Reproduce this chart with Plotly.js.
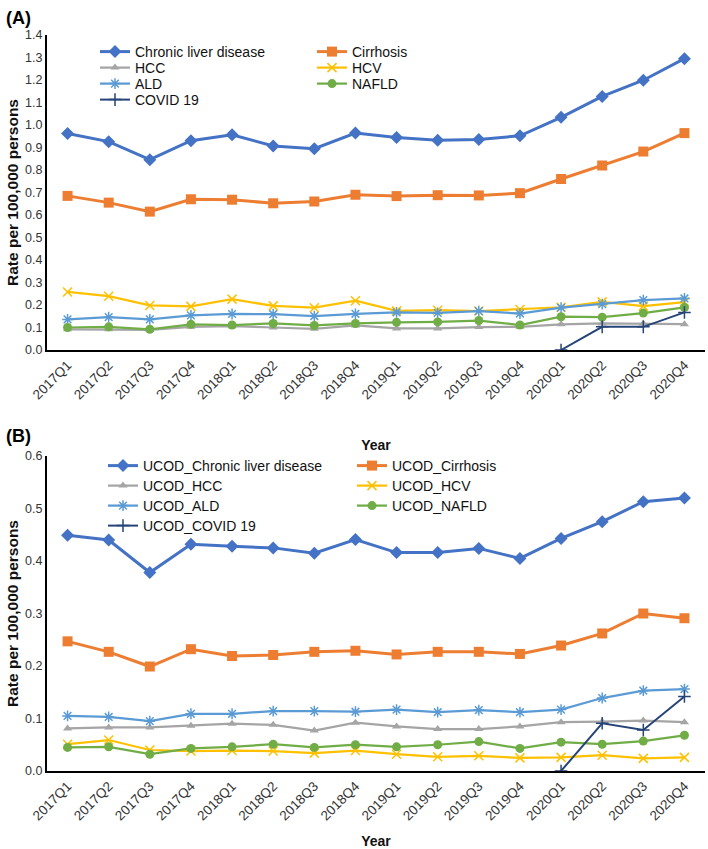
<!DOCTYPE html>
<html>
<head>
<meta charset="utf-8">
<script src="https://cdn.plot.ly/plotly-3.0.1.min.js"></script>
<style>
  html, body { margin: 0; padding: 0; background: #fff; }
  #chart { width: 708px; height: 849px; }
</style>
</head>
<body>
<div id="chart"></div>
<script>
// ---- Data ----
var quarters = ["2017Q1","2017Q2","2017Q3","2017Q4","2018Q1","2018Q2","2018Q3","2018Q4",
                "2019Q1","2019Q2","2019Q3","2019Q4","2020Q1","2020Q2","2020Q3","2020Q4"];

var namesA = ["Chronic liver disease","Cirrhosis","HCC","HCV","ALD","NAFLD","COVID 19"];
var namesB = ["UCOD_Chronic liver disease","UCOD_Cirrhosis","UCOD_HCC","UCOD_HCV","UCOD_ALD","UCOD_NAFLD","UCOD_COVID 19"];

// Panel A: all mentions
var aChronic   = [0.962,0.926,0.846,0.930,0.957,0.907,0.895,0.964,0.944,0.932,0.936,0.952,1.034,1.127,1.199,1.295];
var aCirrhosis = [0.685,0.655,0.615,0.670,0.668,0.652,0.660,0.690,0.684,0.688,0.687,0.697,0.760,0.820,0.882,0.964];
var aHCC       = [0.092,0.092,0.090,0.103,0.106,0.100,0.094,0.109,0.096,0.096,0.102,0.103,0.114,0.118,0.118,0.115];
var aHCV       = [0.258,0.239,0.198,0.194,0.226,0.196,0.188,0.219,0.174,0.177,0.173,0.180,0.190,0.214,0.195,0.213];
var aALD       = [0.136,0.146,0.136,0.154,0.160,0.159,0.151,0.161,0.167,0.165,0.173,0.162,0.188,0.204,0.222,0.229];
var aNAFLD     = [0.100,0.103,0.092,0.114,0.111,0.118,0.109,0.118,0.123,0.125,0.131,0.111,0.148,0.146,0.164,0.189];
var aCOVID     = [null,null,null,null,null,null,null,null,null,null,null,null,0.000,0.103,0.103,0.167];

// Panel B: underlying cause of death
var bChronic   = [0.449,0.440,0.378,0.432,0.428,0.425,0.415,0.441,0.416,0.416,0.424,0.405,0.443,0.475,0.513,0.520];
var bCirrhosis = [0.247,0.227,0.199,0.232,0.219,0.221,0.227,0.229,0.222,0.227,0.227,0.223,0.239,0.262,0.300,0.291];
var bHCC       = [0.081,0.083,0.083,0.086,0.090,0.088,0.077,0.092,0.085,0.080,0.080,0.085,0.093,0.094,0.096,0.093];
var bHCV       = [0.051,0.059,0.040,0.038,0.039,0.038,0.034,0.039,0.032,0.027,0.029,0.025,0.026,0.030,0.024,0.026];
var bALD       = [0.105,0.103,0.095,0.109,0.109,0.114,0.114,0.113,0.117,0.112,0.116,0.112,0.117,0.139,0.153,0.156];
var bNAFLD     = [0.045,0.046,0.032,0.043,0.046,0.051,0.045,0.050,0.046,0.050,0.056,0.043,0.055,0.051,0.057,0.068];
var bCOVID     = [null,null,null,null,null,null,null,null,null,null,null,null,0.000,0.091,0.078,0.142];

var yTicksA = [0,0.1,0.2,0.3,0.4,0.5,0.6,0.7,0.8,0.9,1.0,1.1,1.2,1.3,1.4];
var yTicksB = [0,0.1,0.2,0.3,0.4,0.5,0.6];

// ---- Styles ----
var styles = [
  {color:"#4472C4", symbol:"diamond",        size:10, lw:3,   mlw:0},
  {color:"#ED7D31", symbol:"square",         size:10, lw:3,   mlw:0},
  {color:"#A5A5A5", symbol:"triangle-up",    size:8,  lw:2.25,mlw:0},
  {color:"#FFC000", symbol:"x-thin-open",    size:9,  lw:2.25,mlw:1.5},
  {color:"#5B9BD5", symbol:"asterisk-open",  size:9,  lw:2.25,mlw:1.5},
  {color:"#70AD47", symbol:"circle",         size:9,  lw:2.25,mlw:0},
  {color:"#264478", symbol:"cross-thin-open",size:9,  lw:2,   mlw:1.5}
];

var W = 708, H = 849;
var seriesA = [aChronic,aCirrhosis,aHCC,aHCV,aALD,aNAFLD,aCOVID];
var seriesB = [bChronic,bCirrhosis,bHCC,bHCV,bALD,bNAFLD,bCOVID];

var traces = [];
function addPanel(series, names, xa, ya, legendBase) {
  series.forEach(function(vals, i) {
    var s = styles[i];
    var row = Math.floor(i / 2);
    var lid = legendBase + row;
    traces.push({
      type: "scatter", mode: "lines+markers",
      x: quarters, y: vals, name: names[i],
      xaxis: xa, yaxis: ya,
      legend: lid === 1 ? "legend" : "legend" + lid,
      line: {color: s.color, width: s.lw},
      marker: {symbol: s.symbol, size: s.size, color: s.color,
               line: {color: s.color, width: s.mlw}},
      connectgaps: false,
      hoverinfo: "x+y+name"
    });
  });
}
addPanel(seriesA, namesA, "x", "y", 1);
addPanel(seriesB, namesB, "x2", "y2", 5);

function legendCfg(xpx, ypx, ew) {
  return {
    orientation: "h", xref: "paper", yref: "paper",
    x: xpx / W, y: 1 - ypx / H, xanchor: "left", yanchor: "middle",
    entrywidth: ew, entrywidthmode: "pixels",
    font: {family: "Liberation Sans, Arial, sans-serif", size: 14, color: "#111"},
    bgcolor: "rgba(0,0,0,0)", borderwidth: 0, itemwidth: 30,
    traceorder: "normal", itemclick: false, itemdoubleclick: false
  };
}

var tickFont = {family: "Liberation Sans, Arial, sans-serif", size: 13.5, color: "#333"};
var titleFont = {family: "Liberation Sans, Arial, sans-serif", size: 14, color: "#111"};
var xDomain = [47 / W, 705 / W];

function xaxisCfg(anchor, standoff) {
  return {
    domain: xDomain, anchor: anchor, type: "category",
    range: [-0.5, 15.5], tickangle: -45, tickfont: tickFont,
    showline: true, linecolor: "#000", linewidth: 2,
    showgrid: false, zeroline: false, ticks: "",
    title: {text: "<b>Year</b>", font: titleFont, standoff: standoff},
    automargin: false, fixedrange: true
  };
}
function yaxisCfg(anchor, dom, rng, tv) {
  return {
    domain: dom, anchor: anchor, range: rng,
    tickvals: tv, tickformat: ".1f", tickfont: {family: tickFont.family, size: 12.5, color: "#333"},
    showline: true, linecolor: "#000", linewidth: 2,
    showgrid: false, zeroline: false, ticks: "",
    title: {text: "<b>Rate per 100,000 persons</b>", font: {family: titleFont.family, size: 15.5, color: "#111"}, standoff: 3},
    automargin: false, fixedrange: true
  };
}

var layout = {
  width: W, height: H,
  margin: {l: 0, r: 0, t: 0, b: 0, autoexpand: false},
  paper_bgcolor: "#fff", plot_bgcolor: "#fff",
  font: {family: "Liberation Sans, Arial, sans-serif"},
  xaxis: xaxisCfg("y", 39),
  yaxis: yaxisCfg("x", [1 - 350 / H, 1 - 35 / H], [0, 1.4], yTicksA),
  xaxis2: xaxisCfg("y2", 28),
  yaxis2: yaxisCfg("x2", [1 - 771 / H, 1 - 456 / H], [0, 0.6], yTicksB),
  legend:  legendCfg(95, 52, 172),
  legend2: legendCfg(95, 68, 172),
  legend3: legendCfg(95, 84, 172),
  legend4: legendCfg(95, 100, 172),
  legend5: legendCfg(103, 466, 204),
  legend6: legendCfg(103, 486, 204),
  legend7: legendCfg(103, 506, 204),
  legend8: legendCfg(103, 526, 204),
  annotations: [
    {text: "<b>(A)</b>", xref: "paper", yref: "paper", x: 4 / W, y: 1 - 18 / H,
     xanchor: "left", yanchor: "middle", showarrow: false,
     font: {family: "Liberation Sans, Arial, sans-serif", size: 18, color: "#000"}},
    {text: "<b>(B)</b>", xref: "paper", yref: "paper", x: 4 / W, y: 1 - 436 / H,
     xanchor: "left", yanchor: "middle", showarrow: false,
     font: {family: "Liberation Sans, Arial, sans-serif", size: 18, color: "#000"}}
  ],
  showlegend: true
};

Plotly.newPlot("chart", traces, layout, {displayModeBar: false, staticPlot: true});
</script>
</body>
</html>
